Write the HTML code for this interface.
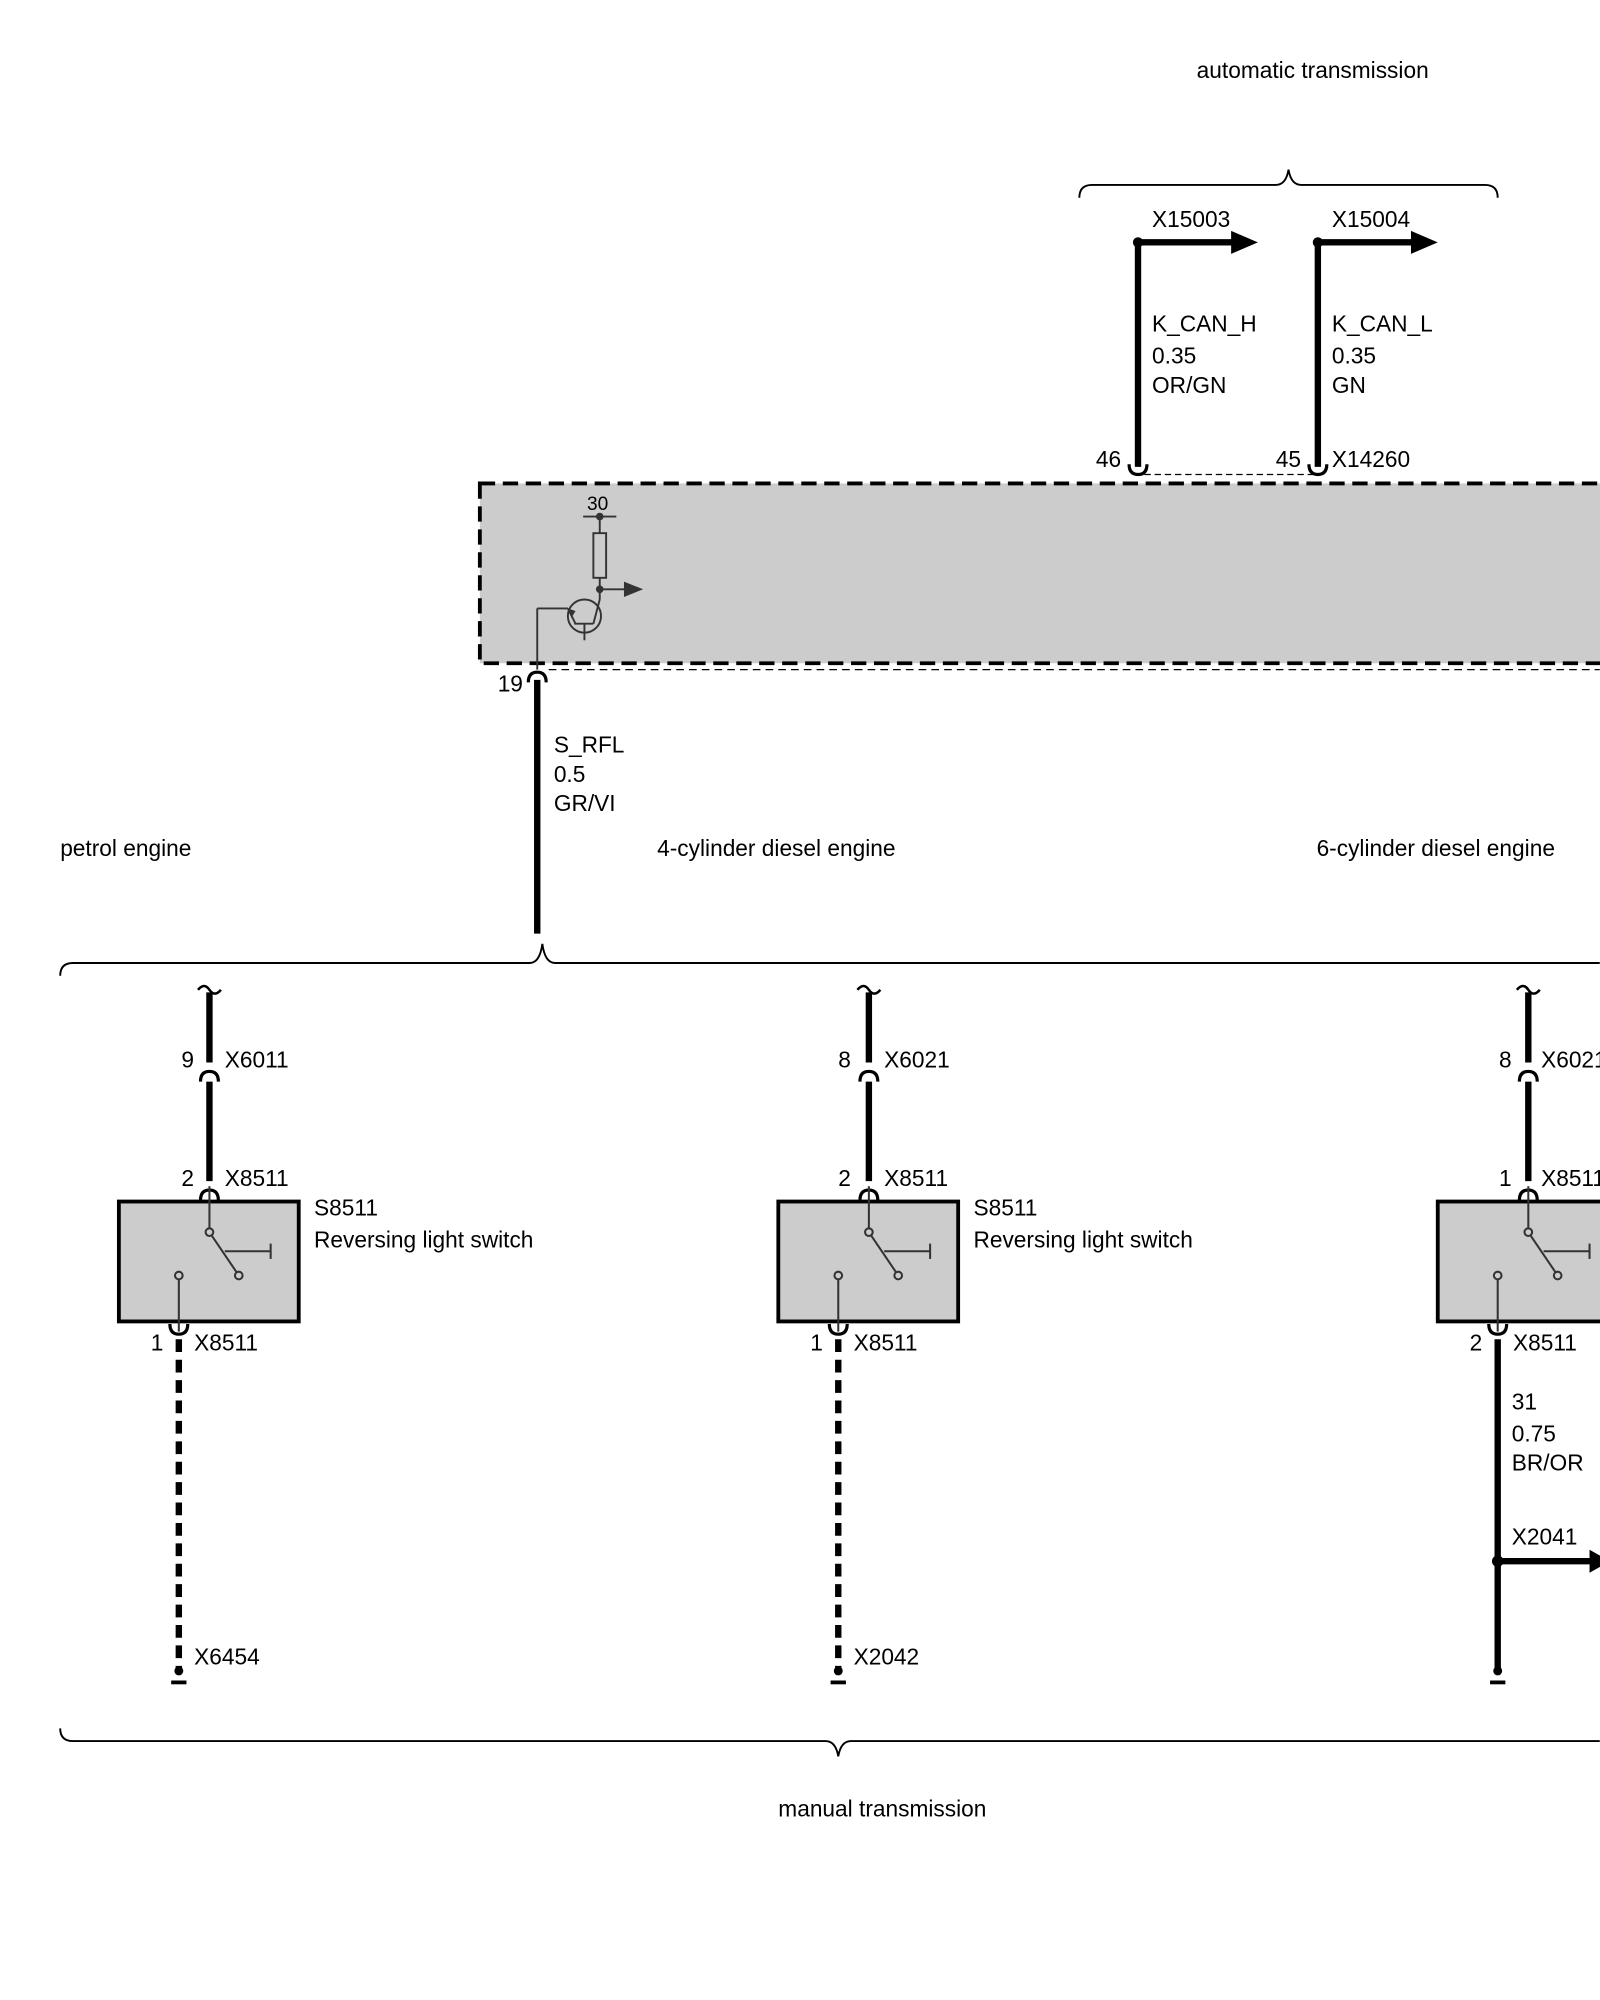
<!DOCTYPE html>
<html><head><meta charset="utf-8"><style>
html,body{margin:0;padding:0;background:#fff}
svg{display:block}
text{font-family:"Liberation Sans",Arial,sans-serif;font-size:17.8px;fill:#000}
</style></head><body>
<svg width="1600" height="2000" viewBox="0 0 1254 1568" xmlns="http://www.w3.org/2000/svg">
<defs>
<g id="sw">
<rect x="93" y="942" width="141" height="94" fill="#ccc" stroke="#000" stroke-width="3"/>
<g stroke="#333" stroke-width="1.6" fill="#ccc">
<line x1="164" y1="930" x2="164" y2="963"/>
<line x1="166" y1="969" x2="185" y2="997"/>
<line x1="176" y1="981" x2="212" y2="981"/>
<line x1="212" y1="975" x2="212" y2="987"/>
<line x1="140" y1="1003" x2="140" y2="1044"/>
<circle cx="164" cy="966" r="3"/>
<circle cx="187" cy="1000" r="3"/>
<circle cx="140" cy="1000" r="3"/>
</g>
</g>
<g id="cupT"><path d="M-7,8 Q-7,0 0,0 Q7,0 7,8" fill="none" stroke="#000" stroke-width="2.5"/></g>
<g id="cupB"><path d="M-7,-8 Q-7,0 0,0 Q7,0 7,-8" fill="none" stroke="#000" stroke-width="2.5"/></g>
<g id="tilde"><path d="M-9,776 Q-4,770 0,776 Q4,782 9,776" fill="none" stroke="#000" stroke-width="2"/></g>
</defs>

<text x="938" y="61">automatic transmission</text>
<path d="M846,155 Q846,145 856,145 L1000,145 Q1008,145 1010,133 Q1012,145 1020,145 L1164,145 Q1174,145 1174,155" fill="none" stroke="#000" stroke-width="1.5"/>

<g stroke="#000" stroke-width="5">
<line x1="892" y1="190" x2="892" y2="366"/>
<line x1="1033" y1="190" x2="1033" y2="366"/>
<line x1="892" y1="190" x2="968" y2="190"/>
<line x1="1033" y1="190" x2="1109" y2="190"/>
</g>
<polygon points="965,181 986,190 965,199" fill="#000"/>
<polygon points="1106,181 1127,190 1106,199" fill="#000"/>
<circle cx="892" cy="190" r="4" fill="#000"/>
<circle cx="1033" cy="190" r="4" fill="#000"/>
<use href="#cupB" x="892" y="372"/>
<use href="#cupB" x="1033" y="372"/>
<text x="903" y="178">X15003</text><text x="1044" y="178">X15004</text>
<text x="903" y="260">K_CAN_H</text><text x="903" y="285">0.35</text><text x="903" y="308">OR/GN</text>
<text x="1044" y="260">K_CAN_L</text><text x="1044" y="285">0.35</text><text x="1044" y="308">GN</text>
<text x="859" y="366">46</text><text x="1000" y="366">45</text><text x="1044" y="366">X14260</text>
<line x1="897" y1="372" x2="1030" y2="372" stroke="#000" stroke-width="1" stroke-dasharray="5,3"/>

<rect x="376" y="379" width="900" height="141" fill="#ccc" stroke="#000" stroke-width="3" stroke-dasharray="12,6"/>
<line x1="430" y1="525" x2="1254" y2="525" stroke="#000" stroke-width="1" stroke-dasharray="6,4"/>
<text x="460" y="400" style="font-size:15px">30</text>
<g stroke="#333" stroke-width="1.5" fill="none">
<line x1="457" y1="405" x2="483" y2="405"/>
<line x1="470" y1="405" x2="470" y2="418"/>
<rect x="465" y="418" width="10" height="35"/>
<line x1="470" y1="453" x2="470" y2="470"/>
<line x1="470" y1="462" x2="492" y2="462"/>
<circle cx="458" cy="483" r="13"/>
<line x1="450" y1="489" x2="465" y2="489"/>
<line x1="458" y1="489" x2="458" y2="502"/>
<line x1="465" y1="489" x2="470" y2="470"/>
<line x1="451" y1="489" x2="445" y2="477"/>
<line x1="421" y1="477" x2="445" y2="477"/>
<line x1="421" y1="477" x2="421" y2="525"/>
</g>
<polygon points="489,456 504,462 489,468" fill="#333"/>
<circle cx="470" cy="405" r="3" fill="#333"/><circle cx="470" cy="462" r="3" fill="#333"/>
<polygon points="445,477 451,479 448,484" fill="#333"/>

<use href="#cupT" x="421" y="527"/>
<line x1="421" y1="533" x2="421" y2="732" stroke="#000" stroke-width="5"/>
<text x="390" y="542">19</text>
<text x="434" y="590">S_RFL</text><text x="434" y="613">0.5</text><text x="434" y="636">GR/VI</text>
<text x="47" y="671">petrol engine</text>
<text x="515" y="671">4-cylinder diesel engine</text>
<text x="1032" y="671">6-cylinder diesel engine</text>
<path d="M47,765 Q47,755 57,755 L415,755 Q423,755 425,740 Q427,755 435,755 L1254,755" fill="none" stroke="#000" stroke-width="1.5"/>

<g stroke="#000" stroke-width="5">
<line x1="164" y1="778" x2="164" y2="833"/>
<line x1="164" y1="848" x2="164" y2="926"/>
<line x1="681" y1="778" x2="681" y2="833"/>
<line x1="681" y1="848" x2="681" y2="926"/>
<line x1="1198" y1="778" x2="1198" y2="833"/>
<line x1="1198" y1="848" x2="1198" y2="926"/>
</g>
<use href="#tilde" x="164"/><use href="#tilde" x="681"/><use href="#tilde" x="1198"/>
<use href="#cupT" x="164" y="840"/><use href="#cupT" x="681" y="840"/><use href="#cupT" x="1198" y="840"/>
<use href="#cupT" x="164" y="933"/><use href="#cupT" x="681" y="933"/><use href="#cupT" x="1198" y="933"/>
<use href="#sw"/><use href="#sw" x="517"/><use href="#sw" x="1034"/>
<use href="#cupB" x="140" y="1046"/><use href="#cupB" x="657" y="1046"/><use href="#cupB" x="1174" y="1046"/>
<g stroke="#000" stroke-width="5">
<line x1="140" y1="1050" x2="140" y2="1312" stroke-dasharray="10,6"/>
<line x1="657" y1="1050" x2="657" y2="1312" stroke-dasharray="10,6"/>
<line x1="1174" y1="1050" x2="1174" y2="1310"/>
<line x1="1174" y1="1224" x2="1250" y2="1224"/>
<line x1="134" y1="1319" x2="146" y2="1319" stroke-width="3"/>
<line x1="651" y1="1319" x2="663" y2="1319" stroke-width="3"/>
<line x1="1168" y1="1319" x2="1180" y2="1319" stroke-width="3"/>
</g>
<circle cx="140" cy="1310" r="3.5"/><circle cx="657" cy="1310" r="3.5"/><circle cx="1174" cy="1310" r="3.5"/>
<circle cx="1174" cy="1224" r="4.5"/>
<polygon points="1246,1215 1262,1224 1246,1233" fill="#000"/>

<text x="142" y="837">9</text><text x="176" y="837">X6011</text>
<text x="142" y="930">2</text><text x="176" y="930">X8511</text>
<text x="246" y="953">S8511</text><text x="246" y="978">Reversing light switch</text>
<text x="118" y="1059">1</text><text x="152" y="1059">X8511</text>
<text x="152" y="1305">X6454</text>

<text x="657" y="837">8</text><text x="693" y="837">X6021</text>
<text x="657" y="930">2</text><text x="693" y="930">X8511</text>
<text x="763" y="953">S8511</text><text x="763" y="978">Reversing light switch</text>
<text x="635" y="1059">1</text><text x="669" y="1059">X8511</text>
<text x="669" y="1305">X2042</text>

<text x="1175" y="837">8</text><text x="1208" y="837">X6021</text>
<text x="1175" y="930">1</text><text x="1208" y="930">X8511</text>
<text x="1152" y="1059">2</text><text x="1186" y="1059">X8511</text>
<text x="1185" y="1105">31</text><text x="1185" y="1130">0.75</text><text x="1185" y="1153">BR/OR</text>
<text x="1185" y="1211">X2041</text>

<path d="M47,1355 Q47,1365 57,1365 L647,1365 Q655,1365 657,1377 Q659,1365 667,1365 L1254,1365" fill="none" stroke="#000" stroke-width="1.5"/>
<text x="610" y="1424">manual transmission</text>
</svg>
</body></html>
